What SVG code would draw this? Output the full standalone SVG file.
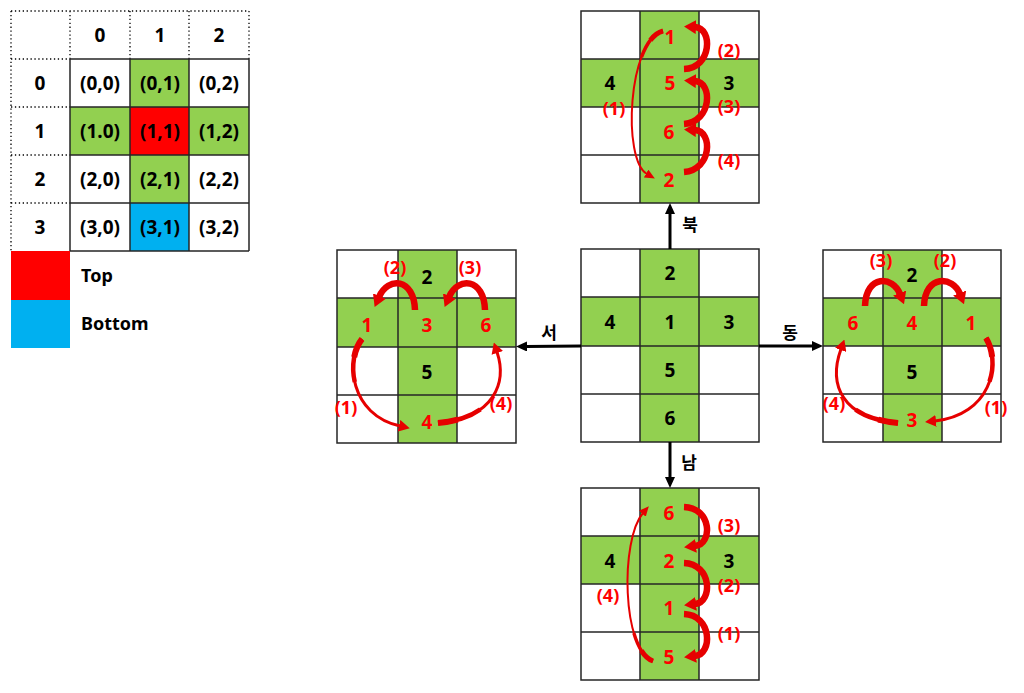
<svg xmlns="http://www.w3.org/2000/svg" xmlns:xlink="http://www.w3.org/1999/xlink" width="1024" height="693" viewBox="0 0 1024 693">
<style>
.bg{fill:#ffffff}
.g{fill:#92d050}
.rd{fill:#ff0000}
.bl{fill:#00b0f0}
.ln{fill:none;stroke:#262626;stroke-width:1.5}
.dot{fill:none;stroke:#000;stroke-width:1.3;stroke-dasharray:1.3 2.6}
.t{font-family:"Noto Sans","Noto Sans CJK KR",sans-serif;font-weight:bold;font-size:19px;text-anchor:middle;fill:#000}
.lb{font-size:18px}
.tl{font-family:"Noto Sans","Noto Sans CJK KR",sans-serif;font-weight:bold;font-size:18px;fill:#000}
.r{fill:#ff0000}
.kr{font-family:"Noto Sans CJK KR","Noto Sans",sans-serif;font-weight:bold;font-size:17px;text-anchor:middle;fill:#000}
.ka{fill:none;stroke:#000;stroke-width:3;marker-end:url(#hk)}
.ra{fill:none;stroke:#e60000;stroke-width:6.5;stroke-linecap:butt;marker-end:url(#hd)}
.rm{fill:none;stroke:#e60000;stroke-width:3;stroke-linecap:butt;marker-end:url(#hm)}
.rs{fill:none;stroke:#e60000;stroke-width:2;stroke-linecap:butt;marker-end:url(#hs)}
.tp{fill:none;stroke:#e60000;stroke-linecap:butt}
</style>
<defs>
<marker id="hd" markerUnits="userSpaceOnUse" viewBox="0 0 12 14" markerWidth="12" markerHeight="14" refX="1" refY="7" orient="auto"><path d="M0,0 L12,7 L0,14 z" fill="#e60000"/></marker>
<marker id="hm" markerUnits="userSpaceOnUse" viewBox="0 0 11 12" markerWidth="11" markerHeight="12" refX="1" refY="6" orient="auto"><path d="M0,0 L11,6 L0,12 z" fill="#e60000"/></marker>
<marker id="hs" markerUnits="userSpaceOnUse" viewBox="0 0 10 9" markerWidth="10" markerHeight="9" refX="1" refY="4.5" orient="auto"><path d="M0,0 L10,4.5 L0,9 z" fill="#e60000"/></marker>
<marker id="hk" markerUnits="userSpaceOnUse" viewBox="0 0 11 10" markerWidth="11" markerHeight="10" refX="1" refY="5" orient="auto"><path d="M0,0 L11,5 L0,10 z" fill="#000"/></marker>
<path id="pN1" d="M663,31 C628,40 622,160 647,174"/>
<path id="pS4" d="M653,661 C622,650 620,540 643,513"/>
<path id="pW1" d="M362,339 C345,360 350,415 400,426"/>
<path id="pW4" d="M438,423 C495,418 507,382 497,352"/>
<path id="pE1" d="M986,338 C1002,365 990,415 935,421"/>
<path id="pE4" d="M898,423 C842,418 828,385 841,349"/>
</defs>
<rect class="bg" x="0" y="0" width="1024" height="693"/>

<g id="table">
<rect class="g" x="130" y="59" width="59" height="48"/>
<rect class="g" x="70" y="107" width="60" height="48"/>
<rect class="g" x="189" y="107" width="60" height="48"/>
<rect class="rd" x="130" y="107" width="59" height="48"/>
<rect class="g" x="130" y="155" width="59" height="48"/>
<rect class="bl" x="130" y="203" width="59" height="48"/>
<path class="dot" d="M11,11 H249 M11,11 V251 M70,11 V59 M130,11 V59 M189,11 V59 M249,11 V59 M11,59 H70 M11,107 H70 M11,155 H70 M11,203 H70"/>
<path class="ln" d="M70,59 H249 M70,107 H249 M70,155 H249 M70,203 H249 M70,251 H249 M70,59 V251 M130,59 V251 M189,59 V251 M249,59 V251"/>
<text class="t" x="100" y="42">0</text>
<text class="t" x="160" y="42">1</text>
<text class="t" x="219" y="42">2</text>
<text class="t" x="40" y="90">0</text>
<text class="t" x="40" y="138">1</text>
<text class="t" x="40" y="186">2</text>
<text class="t" x="40" y="234">3</text>
<text class="t" x="100" y="90">(0,0)</text>
<text class="t" x="160" y="90">(0,1)</text>
<text class="t" x="219" y="90">(0,2)</text>
<text class="t" x="100" y="138">(1.0)</text>
<text class="t" x="160" y="138">(1,1)</text>
<text class="t" x="219" y="138">(1,2)</text>
<text class="t" x="100" y="186">(2,0)</text>
<text class="t" x="160" y="186">(2,1)</text>
<text class="t" x="219" y="186">(2,2)</text>
<text class="t" x="100" y="234">(3,0)</text>
<text class="t" x="160" y="234">(3,1)</text>
<text class="t" x="219" y="234">(3,2)</text>
</g>

<g id="legend">
<rect class="rd" x="11" y="251" width="59" height="49"/>
<rect class="bl" x="11" y="300" width="59" height="48"/>
<text class="tl" x="81" y="282">Top</text>
<text class="tl" x="81" y="330">Bottom</text>
</g>

<g id="center">
<rect class="g" x="640" y="249" width="59" height="193"/>
<rect class="g" x="581" y="297" width="178" height="49"/>
<path class="ln" d="M581,249 H759 V442 H581 Z M640,249 V442 M699,249 V442 M581,297 H759 M581,346 H759 M581,394 H759"/>
<text class="t" x="670" y="280">2</text>
<text class="t" x="610" y="328.5">4</text>
<text class="t" x="670" y="328.5">1</text>
<text class="t" x="729" y="328.5">3</text>
<text class="t" x="670" y="377">5</text>
<text class="t" x="670" y="425">6</text>
</g>

<g id="north">
<rect class="g" x="640" y="11" width="59" height="192"/>
<rect class="g" x="581" y="59" width="178" height="48"/>
<path class="ln" d="M581,11 H759 V203 H581 Z M640,11 V203 M699,11 V203 M581,59 H759 M581,107 H759 M581,155 H759"/>
<text class="t r" x="670" y="44">1</text>
<text class="t" x="610" y="90">4</text>
<text class="t r" x="670" y="90">5</text>
<text class="t" x="729" y="89.5">3</text>
<text class="t r" x="669" y="139">6</text>
<text class="t r" x="669" y="187">2</text>
<text class="t r lb" x="729" y="57">(2)</text>
<text class="t r lb" x="729" y="113">(3)</text>
<text class="t r lb" x="729" y="167">(4)</text>
<text class="t r lb" x="614" y="115">(1)</text>
</g>

<g id="west">
<rect class="g" x="398" y="250" width="59" height="193"/>
<rect class="g" x="337" y="298" width="179" height="49"/>
<path class="ln" d="M337,250 H516 V443 H337 Z M398,250 V443 M457,250 V443 M337,298 H516 M337,347 H516 M337,395 H516"/>
<text class="t" x="427" y="284">2</text>
<text class="t r" x="367" y="332">1</text>
<text class="t r" x="427" y="332">3</text>
<text class="t r" x="486" y="332">6</text>
<text class="t" x="427" y="379">5</text>
<text class="t r" x="427" y="429">4</text>
<text class="t r lb" x="395" y="274">(2)</text>
<text class="t r lb" x="470" y="274">(3)</text>
<text class="t r lb" x="346" y="414">(1)</text>
<text class="t r lb" x="501" y="410">(4)</text>
</g>

<g id="east">
<rect class="g" x="883" y="250" width="59" height="192"/>
<rect class="g" x="823" y="298" width="178" height="48"/>
<path class="ln" d="M823,250 H1001 V442 H823 Z M883,250 V442 M942,250 V442 M823,298 H1001 M823,346 H1001 M823,394 H1001"/>
<text class="t" x="912" y="282">2</text>
<text class="t r" x="853" y="330">6</text>
<text class="t r" x="912" y="330">4</text>
<text class="t r" x="971" y="330">1</text>
<text class="t" x="912" y="379">5</text>
<text class="t r" x="912" y="427">3</text>
<text class="t r lb" x="881" y="267">(3)</text>
<text class="t r lb" x="945" y="267">(2)</text>
<text class="t r lb" x="834" y="410">(4)</text>
<text class="t r lb" x="996" y="414">(1)</text>
</g>

<g id="south">
<rect class="g" x="640" y="488" width="59" height="192"/>
<rect class="g" x="581" y="536" width="178" height="48"/>
<path class="ln" d="M581,488 H759 V680 H581 Z M640,488 V680 M699,488 V680 M581,536 H759 M581,584 H759 M581,632 H759"/>
<text class="t r" x="669" y="520">6</text>
<text class="t" x="610" y="568">4</text>
<text class="t r" x="669" y="568">2</text>
<text class="t" x="729" y="567.5">3</text>
<text class="t r" x="669" y="615">1</text>
<text class="t r" x="669" y="664">5</text>
<text class="t r lb" x="729" y="532">(3)</text>
<text class="t r lb" x="729" y="592">(2)</text>
<text class="t r lb" x="729" y="640">(1)</text>
<text class="t r lb" x="608" y="602">(4)</text>
</g>

<g id="connectors">
<path class="ka" d="M670,249 L670,213"/>
<path class="ka" d="M581,346 L526,346.5"/>
<path class="ka" d="M759,346 L813,346"/>
<path class="ka" d="M670,442 L670,478"/>
<text class="kr" x="690" y="231">북</text>
<text class="kr" x="549" y="339">서</text>
<text class="kr" x="790" y="339">동</text>
<text class="kr" x="689" y="469">남</text>

<path class="ra" d="M684,69 C712,68 713,28 695,27"/>
<path class="ra" d="M684,124 C712,122 713,82 695,81"/>
<path class="ra" d="M684,172 C712,170 713,131 695,130"/>
<use xlink:href="#pN1" class="rs"/>
<use xlink:href="#pN1" class="tp" stroke-width="3.5" stroke-dasharray="35 1000"/>
<use xlink:href="#pN1" class="tp" stroke-width="5" stroke-dasharray="16 1000"/>

<path class="ra" d="M415,310 C414,278 388,276 379,297"/>
<path class="ra" d="M485,310 C484,278 458,276 449,297"/>
<use xlink:href="#pW1" class="rm"/>
<use xlink:href="#pW1" class="tp" stroke-width="4.5" stroke-dasharray="45 1000"/>
<use xlink:href="#pW1" class="tp" stroke-width="6" stroke-dasharray="20 1000"/>
<use xlink:href="#pW4" class="rm"/>
<use xlink:href="#pW4" class="tp" stroke-width="4.5" stroke-dasharray="45 1000"/>
<use xlink:href="#pW4" class="tp" stroke-width="6" stroke-dasharray="20 1000"/>

<path class="ra" d="M865,306 C866,274 893,276 900,294"/>
<path class="ra" d="M924,306 C925,274 953,276 960,294"/>
<use xlink:href="#pE1" class="rm"/>
<use xlink:href="#pE1" class="tp" stroke-width="4.5" stroke-dasharray="45 1000"/>
<use xlink:href="#pE1" class="tp" stroke-width="6" stroke-dasharray="20 1000"/>
<use xlink:href="#pE4" class="rm"/>
<use xlink:href="#pE4" class="tp" stroke-width="4.5" stroke-dasharray="45 1000"/>
<use xlink:href="#pE4" class="tp" stroke-width="6" stroke-dasharray="20 1000"/>

<path class="ra" d="M684,507 C712,508 713,544 695,546"/>
<path class="ra" d="M684,563 C712,564 713,602 695,604"/>
<path class="ra" d="M684,614 C712,615 713,654 695,656"/>
<use xlink:href="#pS4" class="rs"/>
<use xlink:href="#pS4" class="tp" stroke-width="3.5" stroke-dasharray="35 1000"/>
<use xlink:href="#pS4" class="tp" stroke-width="5" stroke-dasharray="16 1000"/>
</g>
</svg>
